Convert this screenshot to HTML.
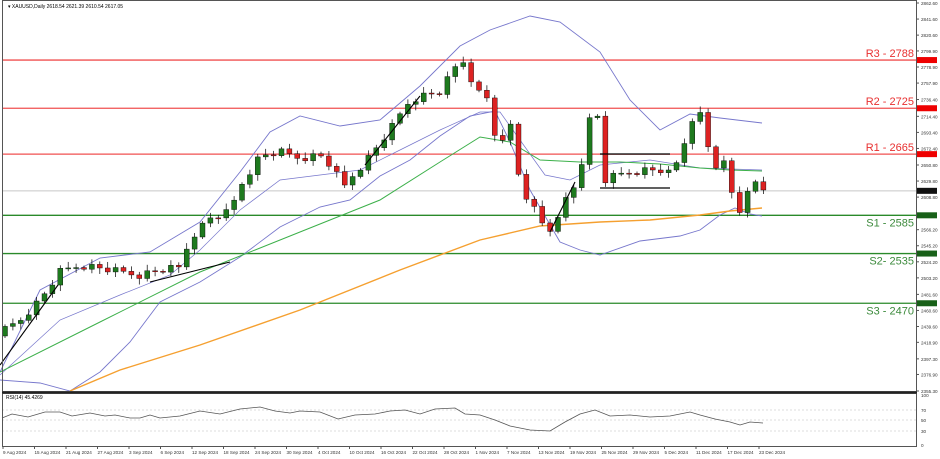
<!DOCTYPE html>
<html><head><meta charset="utf-8"><style>
body{margin:0;background:#fff;width:940px;height:459px;overflow:hidden;font-family:"Liberation Sans",sans-serif}
svg{position:absolute;left:0;top:0}
</style></head><body>
<svg id="s" width="940" height="459" xmlns="http://www.w3.org/2000/svg" font-family="Liberation Sans, sans-serif">
<rect x="0" y="0" width="940" height="459" fill="#fff"/>
<g id="g"></g>
<rect x="2.5" y="0.5" width="914" height="391" fill="none" stroke="#555" stroke-width="1"/>
<rect x="2.5" y="393.5" width="914" height="53" fill="none" stroke="#555" stroke-width="1"/>
<line x1="2" y1="392.5" x2="917" y2="392.5" stroke="#222" stroke-width="2"/>
<text x="8" y="8" font-size="5" fill="#000">▾ XAUUSD,Daily  2618.54 2621.39 2610.54 2617.05</text>
<text x="6" y="399" font-size="5" fill="#000">RSI(14) 45.4269</text>
</svg>
<script>
(function(){
var g=document.getElementById('g'),h='';
function Y(p){return 3+(2862.6-p)*0.7648;}
function L(y,c,w){h+='<line x1="2" y1="'+y+'" x2="917" y2="'+y+'" stroke="'+c+'" stroke-width="'+w+'"/>';}
L(Y(2617),'#c8c8c8',1);
[[2788,'R3 - 2788'],[2725,'R2 - 2725'],[2665,'R1 - 2665']].forEach(function(a){var y=Y(a[0]);L(y,'#f05050',1.3);h+='<text x="914" y="'+(y-3)+'" font-size="11" fill="#e83030" text-anchor="end">'+a[1]+'</text>';h+='<rect x="917" y="'+(y-3)+'" width="20" height="6" fill="#e00"/>';});
[[2585,'S1 - 2585'],[2535,'S2- 2535'],[2470,'S3 - 2470']].forEach(function(a){var y=Y(a[0]);L(y,'#2a8a2a',1.3);h+='<text x="914" y="'+(y+11)+'" font-size="11" fill="#3c8a3c" text-anchor="end">'+a[1]+'</text>';h+='<rect x="917" y="'+(y-3)+'" width="20" height="6" fill="#186018"/>';});
h+='<rect x="917" y="'+(Y(2617)-3)+'" width="20" height="6" fill="#111"/>';
var labs=[2862.6,2841.6,2820.6,2799.9,2778.9,2757.9,2736.4,2714.4,2693.4,2672.4,2650.8,2629.8,2608.8,2566.2,2545.2,2524.2,2503.2,2481.6,2460.6,2439.6,2418.9,2397.3,2376.9,2355.3];
labs.forEach(function(p){var y=Y(p);h+='<line x1="917" y1="'+y+'" x2="919" y2="'+y+'" stroke="#555"/><text x="921" y="'+(y+2)+'" font-size="4.6" fill="#333">'+p.toFixed(2)+'</text>';});
[[410,'70'],[420,'50'],[431,'30']].forEach(function(a){h+='<line x1="2" y1="'+a[0]+'" x2="917" y2="'+a[0]+'" stroke="#bbb" stroke-dasharray="2,2" stroke-width="0.6"/><text x="921" y="'+(a[0]+2)+'" font-size="4.6" fill="#333">'+a[1]+'</text>';});
h+='<text x="921" y="397" font-size="4.6" fill="#333">100</text><text x="921" y="447" font-size="4.6" fill="#333">0</text>';
var d=['9 Aug 2024','15 Aug 2024','21 Aug 2024','27 Aug 2024','3 Sep 2024','6 Sep 2024','12 Sep 2024','18 Sep 2024','24 Sep 2024','30 Sep 2024','4 Oct 2024','10 Oct 2024','16 Oct 2024','22 Oct 2024','28 Oct 2024','1 Nov 2024','7 Nov 2024','13 Nov 2024','19 Nov 2024','25 Nov 2024','29 Nov 2024','5 Dec 2024','11 Dec 2024','17 Dec 2024','23 Dec 2024'];
d.forEach(function(t,i){var x=3+i*31.5;h+='<line x1="'+x+'" y1="447" x2="'+x+'" y2="449" stroke="#555"/><text x="'+x+'" y="454" font-size="4.6" fill="#333">'+t+'</text>';});
function pl(pts,c,w){h+='<polyline fill="none" stroke="'+c+'" stroke-width="'+w+'" points="'+pts.map(function(p){return p.join(',')}).join(' ')+'"/>';}
pl([[0,372],[40,290],[100,258],[150,252],[200,222],[240,172],[270,132],[300,116],[340,126],[380,120],[420,86],[460,46],[490,30],[530,16],[560,22],[600,52],[630,100],[660,130],[690,114],[720,118],[762,123]],'#7777cc',0.9);
pl([[0,380],[40,383],[70,391],[100,372],[130,342],[160,302],[200,282],[240,257],[280,227],[320,207],[350,200],[380,176],[410,160],[440,136],[470,116],[495,111],[510,142],[530,190],[560,242],[580,250],[600,255],[640,241],[680,236],[700,230],[720,215],[735,208],[750,214],[762,216]],'#7777cc',0.9);
pl([[0,375],[60,320],[120,295],[170,275],[200,250],[240,210],[280,180],[320,175],[360,170],[400,150],[440,130],[480,112],[500,112],[520,140],[545,175],[570,180],[600,165],[650,160],[700,168],[762,170]],'#7777cc',0.7);
pl([[0,372],[100,322],[200,272],[300,232],[380,200],[440,162],[480,137],[510,142],[540,160],[580,162],[620,162],[660,164],[700,168],[730,170],[762,171]],'#3cb04a',1);
pl([[70,391],[120,370],[200,345],[300,310],[400,270],[480,240],[540,226],[600,222],[650,220],[700,215],[730,211],[762,208]],'#f5a030',1.4);
var A=[[5,330],[20,320],[40,300],[60,272],[80,265],[100,268],[120,272],[140,275],[160,270],[180,268],[190,238],[210,218],[230,212],[240,186],[260,156],[280,152],[300,158],[320,155],[335,170],[342,190],[352,176],[370,156],[390,130],[410,100],[425,95],[440,92],[455,68],[465,60],[475,90],[490,100],[498,155],[512,122],[520,185],[535,210],[545,228],[555,230],[565,200],[578,180],[590,118],[598,116],[602,182],[615,176],[630,172],[645,170],[660,170],[672,175],[682,150],[692,118],[700,114],[706,140],[714,166],[726,164],[735,210],[742,212],[748,186],[756,184],[763,190]];
function iy(x){for(var k=0;k<A.length-1;k++){if(x<=A[k+1][0]){var t=(x-A[k][0])/(A[k+1][0]-A[k][0]);return A[k][1]+t*(A[k+1][1]-A[k][1]);}}return A[A.length-1][1];}
var prev=iy(5)+6;
for(var i=0;i<97;i++){var x=5+i*7.9,c=iy(x)+((i*37)%7-3)*1.2,o=prev;var bt=Math.min(o,c),bb=Math.max(o,c);var up=c<o;
var hi=bt-2-(i*13)%5,lo=bb+2+(i*7)%5;
h+='<line x1="'+x+'" y1="'+hi+'" x2="'+x+'" y2="'+lo+'" stroke="#000" stroke-width="0.7"/>';
h+='<rect x="'+(x-2.5)+'" y="'+bt+'" width="5" height="'+Math.max(bb-bt,1)+'" fill="'+(up?'#1e7a1e':'#d22')+'" stroke="#000" stroke-width="0.4"/>';prev=c;}
pl([[0,365],[58,285]],'#000',1.1);pl([[150,282],[230,262]],'#000',1.1);pl([[365,165],[420,96]],'#000',1.1);
pl([[550,232],[575,182]],'#000',1.1);pl([[600,154],[670,154]],'#000',1.3);pl([[600,188],[670,188]],'#000',1.3);
pl([[2,418],[12,414],[28,417],[45,412],[60,412],[72,416],[90,413],[105,416],[115,415],[130,418],[140,418],[150,415],[160,418],[180,416],[200,411],[220,414],[240,409],[260,407],[275,411],[290,413],[300,411],[320,412],[338,419],[355,415],[375,414],[390,411],[405,410],[420,414],[435,409],[455,408],[465,414],[480,415],[495,420],[510,426],[530,430],[550,431],[565,422],[580,414],[595,410],[610,416],[630,415],[650,417],[670,416],[690,412],[700,415],[715,419],[730,422],[740,425],[750,422],[763,423]],'#555',0.8);
g.innerHTML=h;
})();
</script>
</body></html>
